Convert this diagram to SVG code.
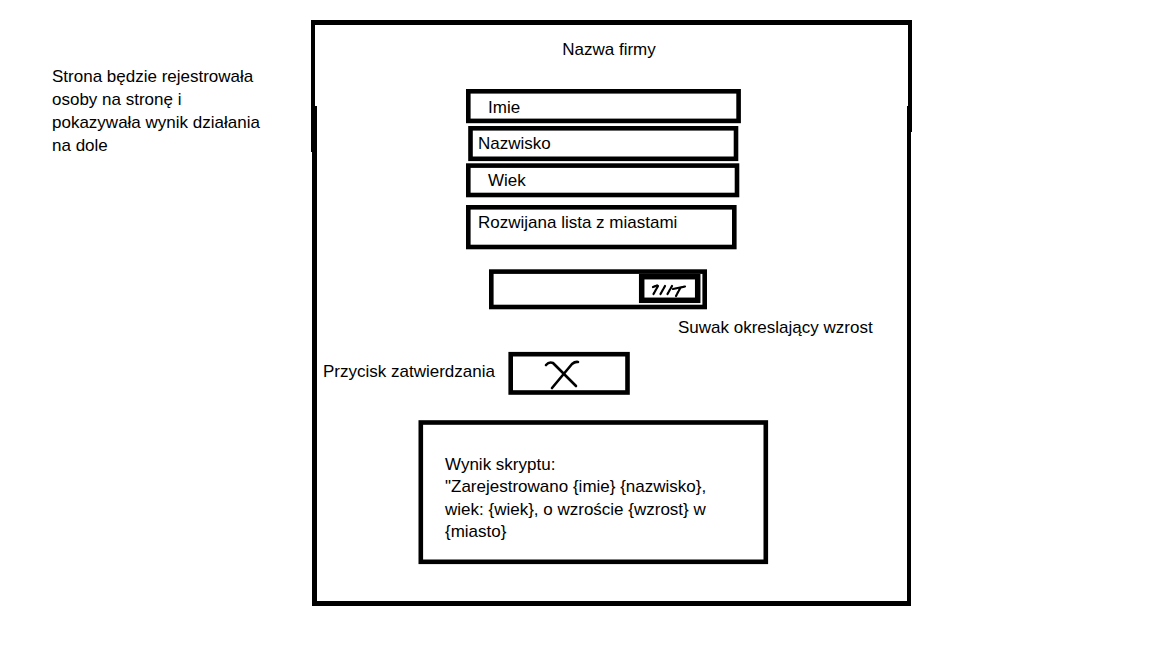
<svg xmlns="http://www.w3.org/2000/svg" width="1152" height="648" viewBox="0 0 1152 648">
<style>
text { font-family: "Liberation Sans", Arial, sans-serif; font-size: 17px; fill: #000; }
.box { fill: none; stroke: #000; stroke-width: 4.6; }
.edge { fill: #000; }
.mark { fill: none; stroke: #000; stroke-linecap: round; stroke-linejoin: round; }
</style>
<rect width="1152" height="648" fill="#fff"/>
<g id="frame">
<rect class="edge" x="311" y="20" width="601" height="5"/>
<rect class="edge" x="311" y="20" width="4" height="86"/>
<rect class="edge" x="311" y="106" width="6" height="46"/>
<rect class="edge" x="312" y="152" width="5" height="454"/>
<rect class="edge" x="312" y="601" width="599" height="5"/>
<rect class="edge" x="908" y="20" width="4" height="86"/>
<rect class="edge" x="907" y="106" width="5" height="26"/>
<rect class="edge" x="907" y="132" width="4" height="474"/>
</g>
<g id="description">
<text x="52" y="82">Strona będzie rejestrowała</text>
<text x="52" y="105">osoby na stronę i</text>
<text x="52" y="128">pokazywała wynik działania</text>
<text x="52" y="151">na dole</text>
</g>
<g id="title">
<text x="609" y="55" text-anchor="middle">Nazwa firmy</text>
</g>
<g id="field-imie">
<rect class="box" x="468.3" y="91.3" width="270.3" height="29.6"/>
<text x="488" y="113">Imie</text>
</g>
<g id="field-nazwisko">
<rect class="box" x="470.5" y="128.3" width="265.5" height="30.5"/>
<text x="478" y="149">Nazwisko</text>
</g>
<g id="field-wiek">
<rect class="box" x="468.3" y="165.6" width="268.7" height="29.4"/>
<text x="488" y="186">Wiek</text>
</g>
<g id="field-miasto">
<rect class="box" x="468.3" y="207.3" width="266" height="39.7"/>
<text x="478" y="228">Rozwijana lista z miastami</text>
</g>
<g id="slider">
<rect class="box" x="491.3" y="271.6" width="213.4" height="35.4"/>
<rect x="641.7" y="276.7" width="56" height="23.6" fill="#fff" stroke="#000" stroke-width="5.5"/>
<g class="mark" stroke-width="2.2" stroke-dasharray="2.5 1">
<path d="M653 287 L657 285.5"/>
<path d="M658 286 L653.5 294"/>
<path d="M665 286 L660.5 294"/>
<path d="M672 286 L667.5 294"/>
<path d="M673 289 L685 286.5"/>
<path d="M680 288.5 L676 296"/>
</g>
<text x="678" y="333">Suwak okreslający wzrost</text>
</g>
<g id="submit">
<text x="323" y="377">Przycisk zatwierdzania</text>
<rect class="box" x="510.7" y="354.2" width="116.8" height="38.3"/>
<path class="mark" stroke-width="2.6" d="M546 365 Q549 361.5 553 363 L576 386"/>
<path class="mark" stroke-width="2.6" d="M578 362 Q575 361.5 572 364 L552 388"/>
</g>
<g id="result">
<rect class="box" x="420.8" y="422.5" width="345" height="139.3"/>
<text x="445" y="470">Wynik skryptu:</text>
<text x="445" y="492">"Zarejestrowano {imie} {nazwisko},</text>
<text x="445" y="515">wiek: {wiek}, o wzroście {wzrost} w</text>
<text x="445" y="537">{miasto}</text>
</g>
<g id="connectors"></g>
</svg>
